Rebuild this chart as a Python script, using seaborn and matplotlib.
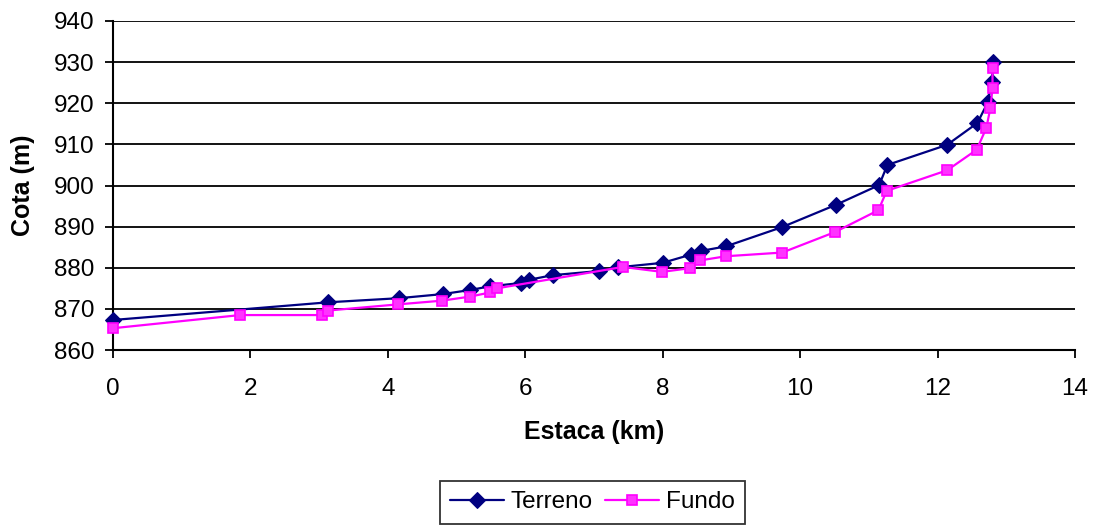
import matplotlib
matplotlib.use("Agg")
import matplotlib.pyplot as plt
import seaborn as sns
import pandas as pd

# Longitudinal profile: ground level (Terreno) and bed level (Fundo)
terreno_km = [0.0, 3.13, 4.16, 4.80, 5.20, 5.49, 5.94, 6.06, 6.40, 7.07, 7.35,
              8.00, 8.41, 8.56, 8.92, 9.74, 10.52, 11.15, 11.27, 12.14, 12.58,
              12.73, 12.79, 12.81]
terreno_cota = [867.3, 871.6, 872.6, 873.6, 874.6, 875.5, 876.3, 877.1, 878.2,
                879.2, 880.1, 881.2, 883.2, 884.1, 885.2, 889.9, 895.3, 900.1,
                905.0, 909.9, 915.2, 920.2, 925.1, 930.0]

fundo_km = [0.0, 1.85, 3.04, 3.13, 4.15, 4.79, 5.20, 5.49, 5.59, 7.42, 7.99,
            8.40, 8.55, 8.92, 9.74, 10.51, 11.14, 11.26, 12.14, 12.57, 12.71,
            12.77, 12.80, 12.80]
fundo_cota = [865.3, 868.5, 868.5, 869.6, 871.1, 872.0, 873.0, 874.0, 875.0,
              880.2, 879.0, 879.9, 881.8, 882.8, 883.7, 888.7, 894.0, 898.7,
              903.7, 908.7, 914.0, 918.9, 923.7, 928.6]

x_ticks = [0, 2, 4, 6, 8, 10, 12, 14]
y_ticks = [860, 870, 880, 890, 900, 910, 920, 930, 940]

sns.set_theme(style="white")
plt.rcParams["font.family"] = ["Liberation Sans", "DejaVu Sans"]
plt.rcParams.update({"text.color": "black", "axes.labelcolor": "black",
                     "xtick.color": "black", "ytick.color": "black"})

df_t = pd.DataFrame({"km": terreno_km, "cota": terreno_cota})
df_f = pd.DataFrame({"km": fundo_km, "cota": fundo_cota})

fig = plt.figure(figsize=(10.93, 5.25), dpi=100)
ax = fig.add_axes([0.1034, 0.3333, 0.8801, 0.6267])

for yv in y_ticks:
    ax.axhline(yv, color="black", linewidth=1.3, zorder=0)

sns.lineplot(data=df_t, x="km", y="cota", sort=False, estimator=None, ax=ax,
             color="#000080", linewidth=1.6, marker="D", markersize=8.5,
             markerfacecolor="#000080", markeredgecolor="#000080",
             label="Terreno", zorder=3, clip_on=False)
sns.lineplot(data=df_f, x="km", y="cota", sort=False, estimator=None, ax=ax,
             color="#FF00FF", linewidth=1.6, marker="s", markersize=7.5,
             markerfacecolor="#FF33FF", markeredgecolor="#FF00FF",
             markeredgewidth=1.2, label="Fundo", zorder=4, clip_on=False)

ax.set_xlim(0, 14)
ax.set_ylim(860, 940)
ax.set_xticks(x_ticks)
ax.set_yticks(y_ticks)
ax.tick_params(axis="both", labelsize=17.5, length=5.5, width=1.3,
               direction="out", bottom=True, left=True)
ax.tick_params(axis="x", pad=15)
ax.tick_params(axis="y", pad=8)

for side in ("top", "right"):
    ax.spines[side].set_visible(False)
for side in ("left", "bottom"):
    ax.spines[side].set_color("black")
    ax.spines[side].set_linewidth(1.5)

ax.set_xlabel("Estaca (km)", fontsize=18, fontweight="bold", va="center")
ax.set_ylabel("Cota (m)", fontsize=18, fontweight="bold", va="center")
ax.xaxis.set_label_coords(0.5, -0.249)
ax.yaxis.set_label_coords(-0.0936, 0.5)

ax.legend_.remove()
handles, labels = ax.get_legend_handles_labels()
leg = fig.legend(handles, labels, loc="center", bbox_to_anchor=(0.5417, 0.043),
                 ncol=2, fontsize=17.5, frameon=True, fancybox=False,
                 edgecolor="black", handlelength=2.25, handletextpad=0.25,
                 columnspacing=0.5, borderpad=0.42, borderaxespad=0)
leg.get_frame().set_linewidth(1.3)

fig.savefig("out.png", dpi=100, facecolor="white")
